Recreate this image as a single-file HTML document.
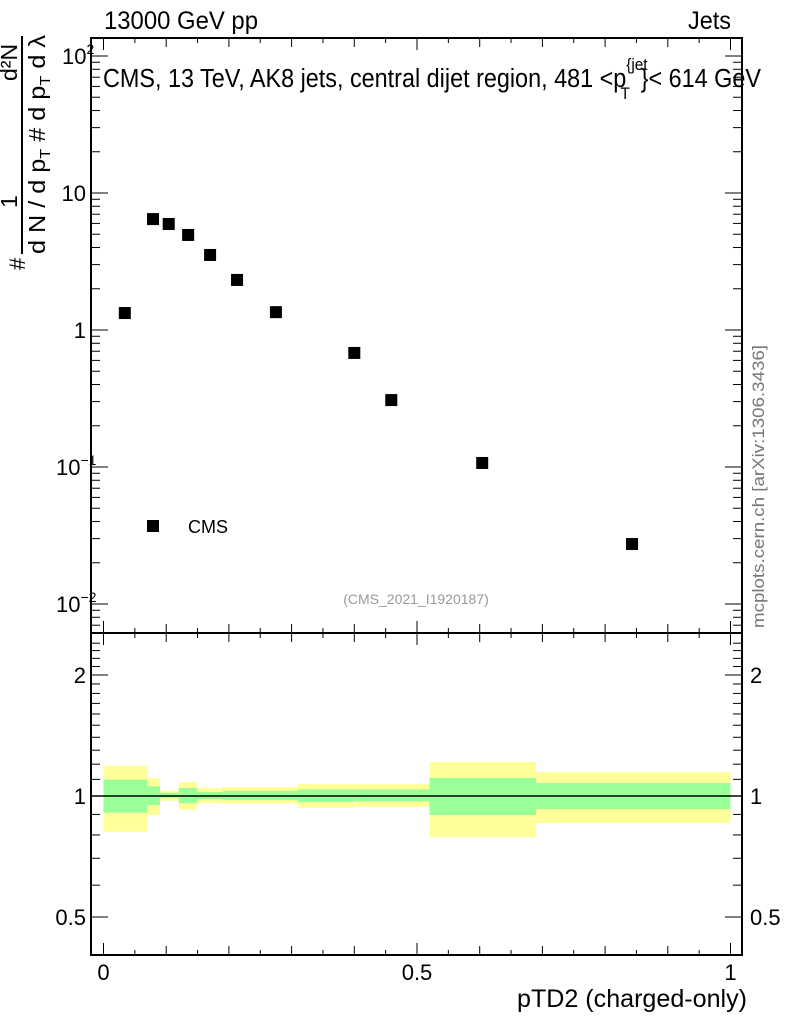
<!DOCTYPE html>
<html><head><meta charset="utf-8"><style>
body{margin:0;background:#fff}
svg text{font-family:"Liberation Sans",sans-serif}
</style></head><body>
<svg id="c" width="786" height="1024" xmlns="http://www.w3.org/2000/svg">
<rect width="786" height="1024" fill="#fff"/>
<g id="bands"></g>
<g id="ticks" stroke="#000" stroke-width="1"></g>
<rect x="91" y="38" width="651" height="595" fill="none" stroke="#000" stroke-width="2"/>
<rect x="91" y="633" width="651" height="322" fill="none" stroke="#000" stroke-width="2"/>
<line x1="91" y1="796" x2="742" y2="796" stroke="#000" stroke-width="1.5"/>
<g id="points"></g>
<g id="labels" font-size="22"></g>
<text x="104" y="29" font-size="25" textLength="154" lengthAdjust="spacingAndGlyphs">13000 GeV pp</text>
<text x="688" y="29" font-size="25" textLength="43" lengthAdjust="spacingAndGlyphs">Jets</text>
<g transform="translate(103,87) scale(0.9,1)">
<text x="0" y="0" font-size="26">CMS, 13 TeV, AK8 jets, central dijet region, 481 &lt;p<tspan font-size="17" dy="-17">{jet</tspan><tspan font-size="17" dx="-30" dy="29">T</tspan><tspan dy="-12" dx="12">}&lt; 614 GeV</tspan></text>
</g>
<rect x="147" y="520" width="12" height="12" fill="#000"/>
<text x="188" y="533" font-size="18">CMS</text>
<text x="416" y="604" font-size="14" fill="#999" text-anchor="middle">(CMS_2021_I1920187)</text>
<text transform="translate(764,628) rotate(-90)" font-size="17" fill="#777" textLength="283" lengthAdjust="spacingAndGlyphs">mcplots.cern.ch [arXiv:1306.3436]</text>
<text transform="translate(37,733+0) rotate(-90)" font-size="16" text-anchor="end"><tspan>Ratio to CMS</tspan></text>
<text x="517" y="1007" font-size="25" textLength="230" lengthAdjust="spacingAndGlyphs">pTD2 (charged-only)</text>
<g>
<line x1="22" y1="36" x2="22" y2="254" stroke="#000" stroke-width="2"/>
<text transform="translate(17,81) rotate(-90)" font-size="23">d²N</text>
<text transform="translate(17,208) rotate(-90)" font-size="23">1</text>
<text transform="translate(25,270) rotate(-90)" font-size="22">#</text>
<text transform="translate(45,254) rotate(-90)" font-size="23" textLength="219" lengthAdjust="spacingAndGlyphs">d N / d p<tspan font-size="15" dy="5">T</tspan><tspan dy="-5"> # d p</tspan><tspan font-size="15" dy="5">T</tspan><tspan dy="-5"> d λ</tspan></text>
</g>
</svg>
<script>
const ptX = [0.034,0.079,0.104,0.135,0.17,0.213,0.275,0.40,0.459,0.604,0.843];
const ptY = [1.33,6.45,5.94,4.94,3.53,2.32,1.35,0.68,0.308,0.107,0.0274];
const binEdges = [0,0.07,0.09,0.12,0.15,0.19,0.31,0.40,0.52,0.69,1.0];
const yellowHi = [1.19,1.108,1.03,1.083,1.047,1.053,1.071,1.071,1.215,1.147];
const greenHi  = [1.098,1.057,1.019,1.047,1.023,1.03,1.039,1.039,1.108,1.077];
const greenLo  = [0.909,0.95,0.99,0.96,0.983,0.977,0.966,0.97,0.897,0.928];
const yellowLo = [0.815,0.897,0.973,0.924,0.96,0.957,0.935,0.94,0.79,0.857];
const xTickLabels = ["0","0.5","1"];
const ratioTickLabels = ["0.5","1","2"];

const NS="http://www.w3.org/2000/svg";
const X=v=>103.5+v*627;
const Y=v=>330-137*Math.log10(v);
const R=v=>796-121*Math.log2(v);
function mk(tag,attrs,parent){const e=document.createElementNS(NS,tag);for(const k in attrs)e.setAttribute(k,attrs[k]);parent.appendChild(e);return e;}
const bands=document.getElementById('bands');
for(let i=0;i<binEdges.length-1;i++){
  const x0=X(binEdges[i]),x1=X(binEdges[i+1]);
  const y=mk('rect',{x:x0,y:R(yellowHi[i]),width:x1-x0,height:R(yellowLo[i])-R(yellowHi[i]),fill:'#ffff99'},bands);
  
  
  const g=mk('rect',{x:x0,y:R(greenHi[i]),width:x1-x0,height:R(greenLo[i])-R(greenHi[i]),fill:'#99ff99'},bands);
  
  
}
const pts=document.getElementById('points');
for(let i=0;i<ptX.length;i++){
  const p=mk('rect',{x:X(ptX[i])-6,y:Y(ptY[i])-6,width:12,height:12,fill:'#000'},pts);
  
  
}
const tk=document.getElementById('ticks');
for(let k=0;k<=20;k++){
  const v=k*0.05,x=X(v);
  const len=(k%10===0)?12:(k%2===0?9:5);
  mk('line',{x1:x,y1:633,x2:x,y2:633-len},tk);
  mk('line',{x1:x,y1:633,x2:x,y2:633+len},tk);
  mk('line',{x1:x,y1:955,x2:x,y2:955-len},tk);
  mk('line',{x1:x,y1:38,x2:x,y2:38+len},tk);
}
for(let d=-3;d<=2;d++){
  for(let m=1;m<=9;m++){
    const v=m*Math.pow(10,d),y=Y(v);
    if(y<38||y>633)continue;
    const len=m===1?17:9;
    mk('line',{x1:91,y1:y,x2:91+len,y2:y},tk);
    mk('line',{x1:742,y1:y,x2:742-len,y2:y},tk);
  }
}
for(let v=0.4;v<=2.5;v+=0.1){
  const y=R(v);if(y<633||y>955)continue;
  const maj=Math.abs(v-0.5)<1e-6||Math.abs(v-1)<1e-6||Math.abs(v-2)<1e-6;
  const len=maj?17:9;
  mk('line',{x1:91,y1:y,x2:91+len,y2:y},tk);
  mk('line',{x1:742,y1:y,x2:742-len,y2:y},tk);
}
const lb=document.getElementById('labels');
[[100,2],[10,null],[1,null],[0.1,-1],[0.01,-2]].forEach(([v,e])=>{
  const tx=mk('text',{x:e===null?86:(e===2?62:56),y:Y(v)+8,'text-anchor':e===null?'end':'start'},lb);
  
  
  tx.textContent=(v===1)?"1":"10";
  if(e!==null){const s=mk('tspan',{'font-size':14,dy:-10},tx);s.textContent=String(e).replace('-','−');}
});
const rv=[0.5,1,2];
ratioTickLabels.forEach((t,i)=>{
  const a=mk('text',{x:86,y:R(rv[i])+8,'text-anchor':'end'},lb);
  
  
  a.textContent=t;
  const b=mk('text',{x:750,y:R(rv[i])+8},lb);
  
  
  b.textContent=t;
});
const xv=[0,0.5,1];
xTickLabels.forEach((t,i)=>{
  const a=mk('text',{x:X(xv[i]),y:980,'text-anchor':'middle'},lb);
  
  
  a.textContent=t;
});
</script>
</body></html>
